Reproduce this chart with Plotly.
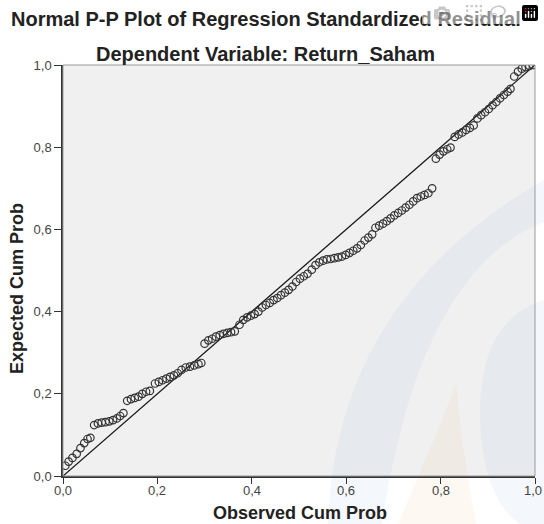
import plotly.graph_objects as go

# Observed cumulative probability (x) and expected cumulative probability (y)
observed = [0.005, 0.012, 0.020, 0.029, 0.037, 0.045, 0.052, 0.058, 0.066, 0.074,
            0.082, 0.090, 0.098, 0.106, 0.114, 0.121, 0.128, 0.136, 0.144, 0.152,
            0.160, 0.168, 0.176, 0.184, 0.195, 0.203, 0.211, 0.219, 0.227, 0.235,
            0.243, 0.251, 0.260, 0.269, 0.278, 0.287, 0.293, 0.300, 0.308, 0.316,
            0.324, 0.332, 0.340, 0.348, 0.356, 0.364, 0.374, 0.382, 0.390, 0.398,
            0.406, 0.414, 0.422, 0.430, 0.438, 0.446, 0.454, 0.462, 0.470, 0.478,
            0.486, 0.494, 0.502, 0.510, 0.518, 0.527, 0.535, 0.543, 0.551, 0.559,
            0.567, 0.575, 0.583, 0.591, 0.599, 0.607, 0.615, 0.623, 0.631, 0.639,
            0.647, 0.655, 0.662, 0.670, 0.678, 0.686, 0.694, 0.702, 0.710, 0.718,
            0.726, 0.734, 0.742, 0.750, 0.758, 0.766, 0.774, 0.782, 0.790, 0.798,
            0.806, 0.814, 0.821, 0.830, 0.838, 0.846, 0.854, 0.862, 0.870, 0.878,
            0.886, 0.894, 0.902, 0.910, 0.918, 0.926, 0.934, 0.942, 0.948, 0.956,
            0.964, 0.972, 0.980, 0.988, 0.996]
expected = [0.025, 0.035, 0.044, 0.054, 0.068, 0.080, 0.090, 0.093, 0.124, 0.128,
            0.130, 0.131, 0.133, 0.136, 0.140, 0.146, 0.153, 0.183, 0.187, 0.190,
            0.193, 0.200, 0.205, 0.207, 0.225, 0.229, 0.233, 0.237, 0.241, 0.245,
            0.250, 0.258, 0.264, 0.266, 0.269, 0.272, 0.275, 0.322, 0.330, 0.334,
            0.339, 0.343, 0.346, 0.348, 0.350, 0.352, 0.368, 0.380, 0.386, 0.390,
            0.394, 0.400, 0.410, 0.416, 0.421, 0.428, 0.433, 0.440, 0.446, 0.453,
            0.461, 0.472, 0.480, 0.486, 0.492, 0.502, 0.513, 0.520, 0.524, 0.527,
            0.528, 0.530, 0.532, 0.534, 0.538, 0.543, 0.548, 0.554, 0.562, 0.573,
            0.580, 0.588, 0.604, 0.609, 0.614, 0.620, 0.627, 0.634, 0.640, 0.646,
            0.653, 0.660, 0.668, 0.676, 0.680, 0.684, 0.688, 0.700, 0.772, 0.782,
            0.790, 0.795, 0.799, 0.825, 0.831, 0.836, 0.842, 0.847, 0.853, 0.870,
            0.878, 0.885, 0.893, 0.902, 0.910, 0.919, 0.927, 0.935, 0.942, 0.972,
            0.984, 0.991, 0.995, 0.998, 1.000]

ref_line = [0.0, 1.0]
tick_vals = [0.0, 0.2, 0.4, 0.6, 0.8, 1.0]
tick_text = ["0,0", "0,2", "0,4", "0,6", "0,8", "1,0"]

title_main = "Normal P-P Plot of Regression Standardized Residual"
title_sub = "Dependent Variable: Return_Saham"
x_title = "Observed Cum Prob"
y_title = "Expected Cum Prob"

W, H = 544, 524
L, R, T, B = 63, 535, 65, 476   # plot area in screen pixels


def px(x):
    return (x - L) / (R - L)


def py(y):
    return (B - y) / (B - T)


def path(points_cmds):
    out = []
    for cmd, pts in points_cmds:
        s = cmd
        if pts:
            s += " " + " ".join(f"{px(a):.4f},{py(b):.4f}" for a, b in pts)
        out.append(s)
    return " ".join(out)


fig = go.Figure()

fig.add_trace(go.Scatter(
    x=ref_line, y=ref_line, mode="lines",
    line=dict(color="#1a1a1a", width=1.3),
    hoverinfo="skip", showlegend=False,
))

fig.add_trace(go.Scatter(
    x=observed, y=expected, mode="markers",
    marker=dict(symbol="circle-open", size=7.5, color="#333333",
                line=dict(width=1.2, color="#333333")),
    showlegend=False,
))

# faint watermark shapes
blue = "rgba(120,150,215,0.08)"
orange = "rgba(245,160,100,0.08)"
shapes = [
    dict(type="path", xref="paper", yref="paper", layer="below", line=dict(width=0),
         fillcolor=blue,
         path=path([("M", [(328, 524)]), ("Q", [(335, 300), (544, 180)]),
                    ("L", [(544, 222)]), ("Q", [(420, 270), (382, 524)]), ("Z", [])])),
    dict(type="path", xref="paper", yref="paper", layer="below", line=dict(width=0),
         fillcolor=blue,
         path=path([("M", [(544, 300)]), ("Q", [(478, 320), (480, 420)]),
                    ("Q", [(484, 500), (520, 524)]), ("L", [(544, 524)]), ("Z", [])])),
    dict(type="path", xref="paper", yref="paper", layer="below", line=dict(width=0),
         fillcolor=orange,
         path=path([("M", [(456, 385)]), ("Q", [(430, 450), (398, 524)]),
                    ("L", [(476, 524)]), ("Q", [(462, 450), (456, 385)]), ("Z", [])])),
    dict(type="rect", xref="paper", yref="paper", x0=0, x1=1, y0=0, y1=1,
         line=dict(color="#9a9a9a", width=1), layer="above"),
]

FONT = "Liberation Sans, Arial, sans-serif"
TICKFONT = dict(family=FONT, size=13, color="#444")
annotations = [
    dict(text=f"<b>{title_main}</b>", x=px(266), y=py(19), xref="paper", yref="paper",
         showarrow=False, xanchor="center", yanchor="middle",
         font=dict(family=FONT, size=20, color="#222")),
    dict(text=f"<b>{title_sub}</b>", x=px(265), y=py(54), xref="paper", yref="paper",
         showarrow=False, xanchor="center", yanchor="middle",
         font=dict(family=FONT, size=20, color="#222")),
    dict(text=f"<b>{x_title}</b>", x=px(300), y=py(513), xref="paper", yref="paper",
         showarrow=False, xanchor="center", yanchor="middle",
         font=dict(family=FONT, size=18, color="#222")),
    dict(text=f"<b>{y_title}</b>", x=px(17), y=py(289), xref="paper", yref="paper",
         showarrow=False, xanchor="center", yanchor="middle", textangle=-90,
         font=dict(family=FONT, size=18, color="#222")),
]

# x tick labels as annotations (close to the axis, last one kept inside the page)
for i, (v, t) in enumerate(zip(tick_vals, tick_text)):
    last = i == len(tick_vals) - 1
    annotations.append(dict(
        text=t, x=px(543) if last else v, xref="paper" if last else "x",
        y=py(490), yref="paper", showarrow=False,
        xanchor="right" if last else "center", yanchor="middle",
        font=TICKFONT, borderpad=0,
    ))

axis_common = dict(
    range=[0, 1], tickvals=tick_vals, ticktext=tick_text,
    showgrid=False, zeroline=False, showline=True, linecolor="#333", linewidth=1.5,
    ticks="outside", tickwidth=1.2, tickcolor="#333",
    tickfont=TICKFONT, automargin=False,
    fixedrange=True,
)

fig.update_layout(
    width=W, height=H,
    margin=dict(l=L, r=W - R, t=T, b=H - B, pad=0, autoexpand=False),
    paper_bgcolor="white", plot_bgcolor="#f0f0f0",
    xaxis=dict(**axis_common, ticklen=6, showticklabels=False),
    yaxis=dict(**axis_common, ticklen=7),
    shapes=shapes, annotations=annotations,
    showlegend=False,
)

# remove the default page margin so the 544x524 figure fills the window exactly
fig.write_html(
    "out.html",
    post_script="document.body.style.margin='0';document.body.style.overflow='hidden';",
)
